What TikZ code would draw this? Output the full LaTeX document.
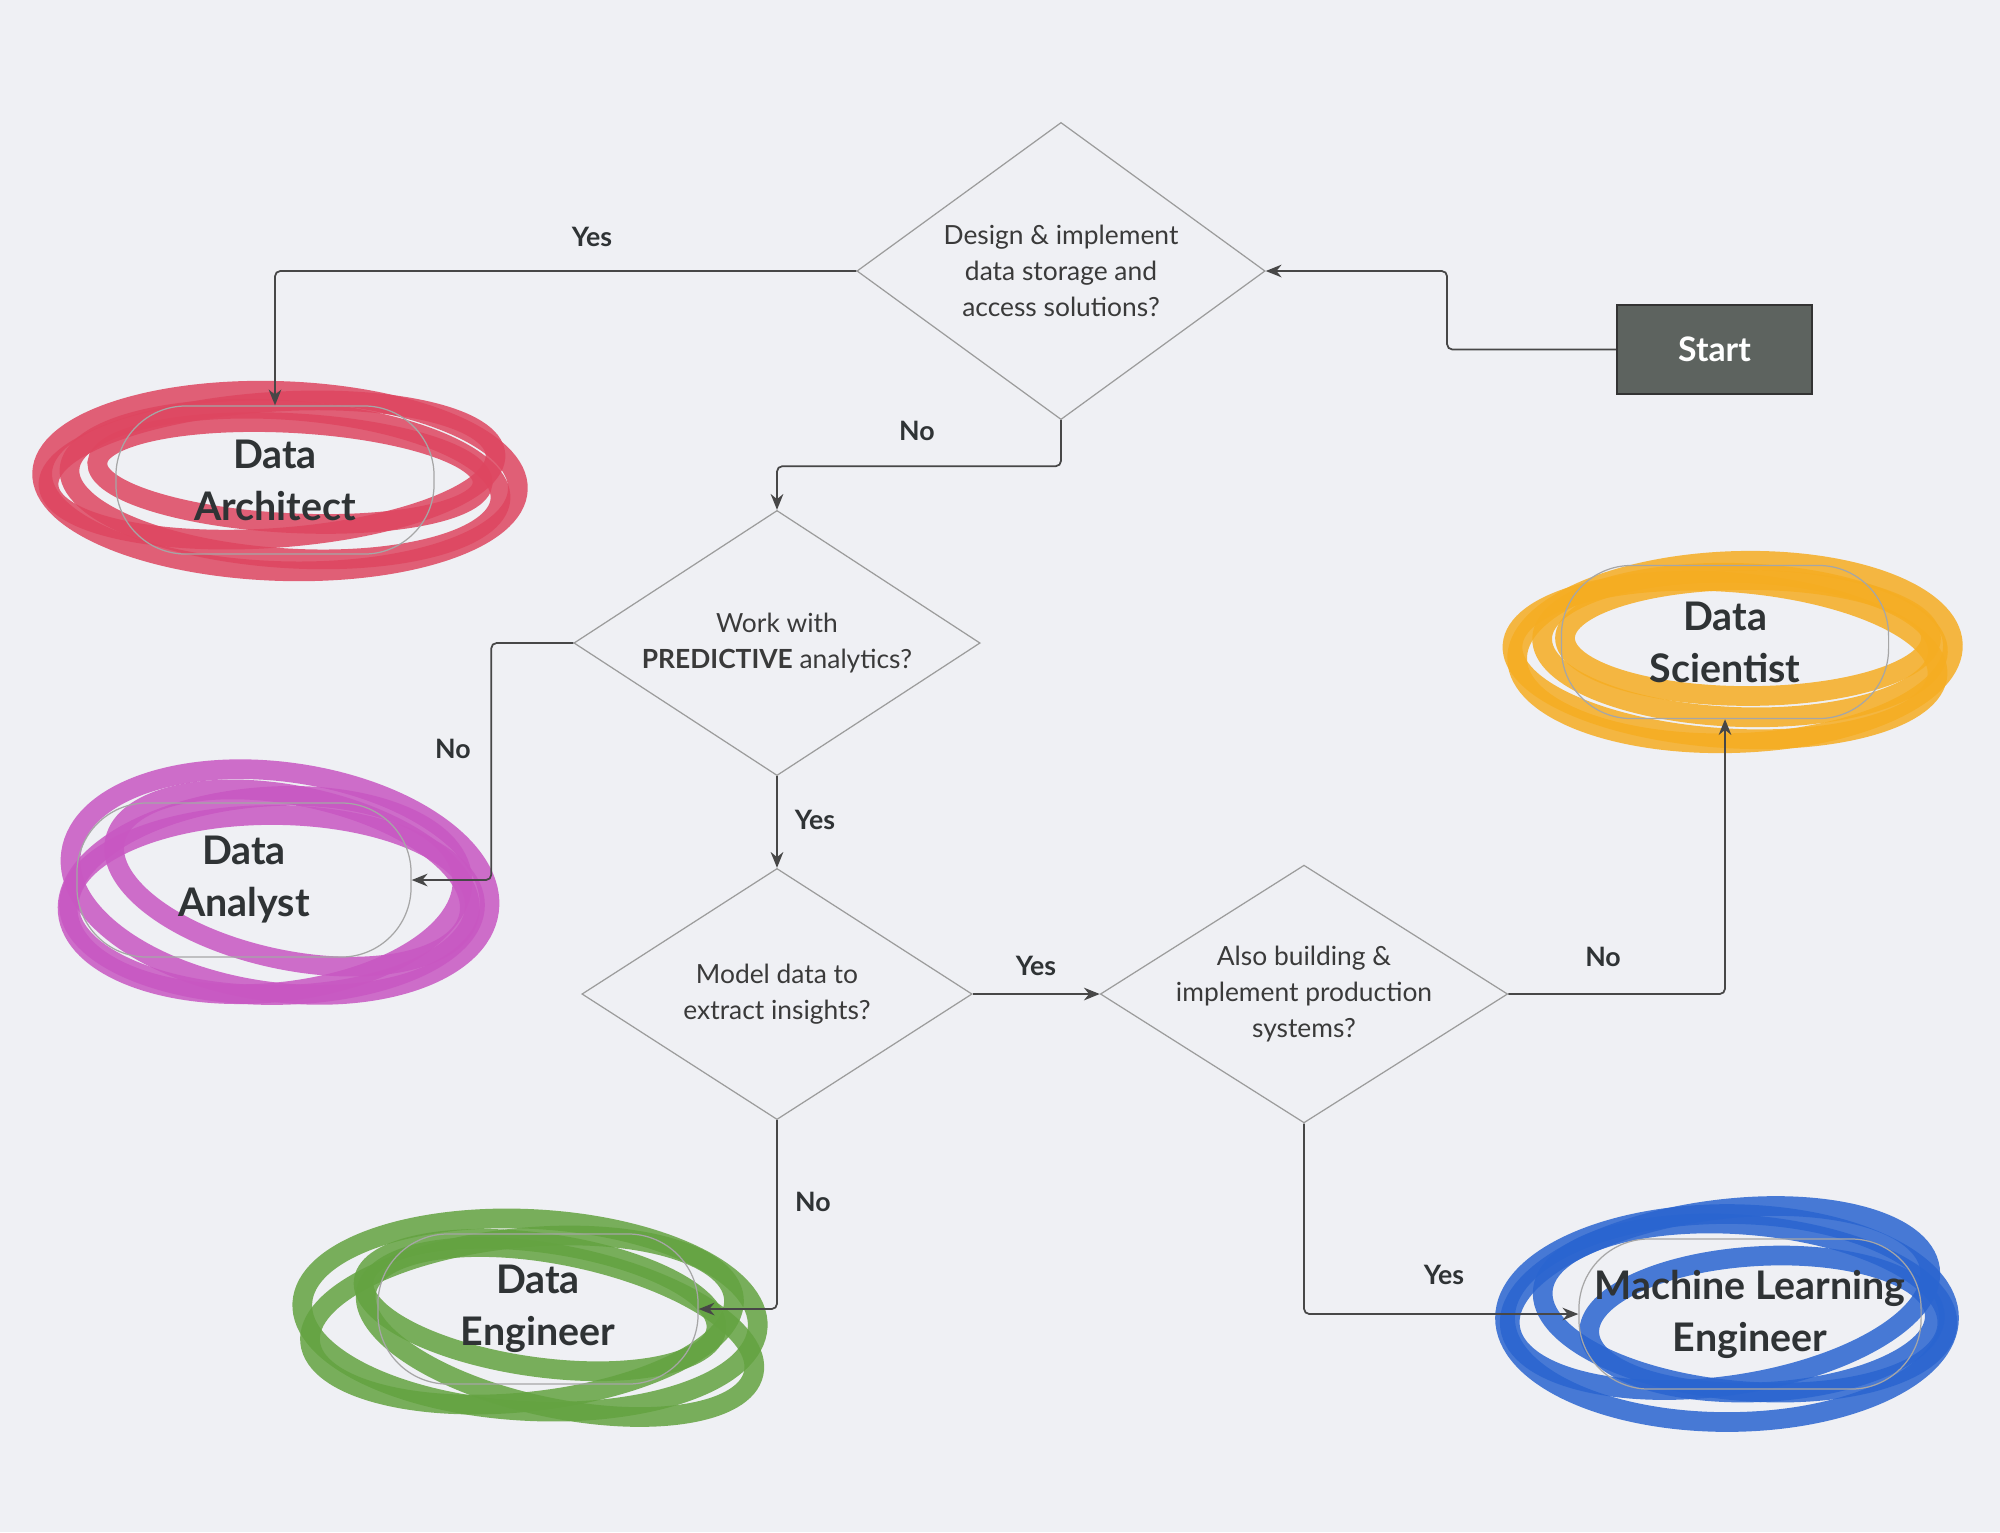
\documentclass[tikz,border=0pt]{standalone}
\usepackage{fontspec}
\setmainfont{Lato}
\usetikzlibrary{shapes.geometric,arrows.meta}
\definecolor{bg}{HTML}{EFF0F4}
\definecolor{conncol}{HTML}{474747}
\definecolor{diacol}{HTML}{9C9C9C}
\definecolor{txtcol}{HTML}{3A3A3A}
\definecolor{roletxt}{HTML}{2F3335}
\definecolor{startfill}{HTML}{5D635F}
\definecolor{mred}{HTML}{DE4660}
\definecolor{mmag}{HTML}{C857C2}
\definecolor{mgreen}{HTML}{64A341}
\definecolor{morange}{HTML}{F6AD22}
\definecolor{mblue}{HTML}{2A65D0}
\newcommand\mloop[6]{\draw[marker,#1,rotate around={#6:(#2,#3)}] (#2,#3) ellipse [x radius={#4*0.01cm}, y radius={#5*0.01cm}];}
\begin{document}
\begin{tikzpicture}[x=0.01cm,y=-0.01cm,
  dia/.style={shape=diamond, draw=diacol, line width=0.35pt, inner sep=0pt, aspect=1.4,
    align=center, text=txtcol, font=\fontsize{7.5}{10.2}\selectfont},
  role/.style={shape=rectangle, rounded corners=0.7cm, draw=gray!70, line width=0.35pt,
    align=center, text=roletxt, font=\bfseries\fontsize{11.2}{14.8}\selectfont},
  lbl/.style={text=roletxt, font=\bfseries\fontsize{7.6}{9}\selectfont, inner sep=1pt},
  conn/.style={draw=conncol, line width=0.5pt, rounded corners=1.5pt,
    -{Stealth[length=4.5pt,width=3.6pt]}},
  marker/.style={line width=5.6pt, opacity=0.85}]
\useasboundingbox (0,0) rectangle (2000,1532);
\fill[bg] (0,0) rectangle (2000,1532);

% marker loops
\mloop{mred}{280}{481}{238}{90}{-2}
\mloop{mred}{285}{484}{216}{74}{-4}
\mloop{mred}{290}{473}{193}{50}{-3}
\mloop{mred}{272}{470}{224}{68}{4}

\mloop{mmag}{280}{882}{211}{110}{-8}
\mloop{mmag}{265}{895}{198}{98}{5}
\mloop{mmag}{292}{878}{181}{82}{-12}
\mloop{mmag}{272}{905}{203}{90}{0}

\mloop{mgreen}{530}{1315}{228}{96}{-3}
\mloop{mgreen}{540}{1305}{178}{62}{-8}
\mloop{mgreen}{522}{1320}{213}{82}{6}
\mloop{mgreen}{560}{1332}{198}{76}{-12}

\mloop{morange}{1735}{652}{218}{91}{2}
\mloop{morange}{1740}{645}{198}{72}{-2}
\mloop{morange}{1725}{660}{213}{78}{-4}
\mloop{morange}{1748}{638}{183}{58}{0}

\mloop{mblue}{1727}{1318}{222}{104}{0}
\mloop{mblue}{1745}{1308}{203}{83}{-5}
\mloop{mblue}{1762}{1324}{173}{68}{3}
\mloop{mblue}{1720}{1298}{212}{88}{8}

% start
\node[draw=black!80, fill=startfill, line width=0.5pt, minimum width=1.95cm, minimum height=0.89cm,
  text=white, font=\bfseries\fontsize{9.6}{11}\selectfont] (start) at (1714.5,349.5) {Start};

% decisions
\node[dia, minimum width=4.08cm, minimum height=2.97cm] (d1) at (1061,271)
  {Design \& implement\\data storage and\\access solutions?};
\node[dia, minimum width=4.06cm, minimum height=2.65cm, aspect=1.53] (d2) at (777,643)
  {Work with\\\textbf{PREDICTIVE} analytics?};
\node[dia, minimum width=3.90cm, minimum height=2.51cm, aspect=1.55] (d3) at (777,994)
  {Model data to\\extract insights?};
\node[dia, minimum width=3.99cm, minimum height=2.53cm, aspect=1.58] (d4) at (1304,994)
  {Also building \&\\implement production\\systems?};

% roles
\node[role, minimum width=3.18cm, minimum height=1.48cm] (arch) at (275,480) {Data\\Architect};
\node[role, minimum width=3.34cm, minimum height=1.54cm] (analyst) at (244,880) {Data\\Analyst};
\node[role, minimum width=3.20cm, minimum height=1.50cm] (eng) at (538,1309) {Data\\Engineer};
\node[role, minimum width=3.27cm, minimum height=1.53cm] (sci) at (1725,642) {Data\\Scientist};
\node[role, minimum width=3.42cm, minimum height=1.50cm] (ml) at (1750,1314) {Machine Learning\\Engineer};

% connectors
\draw[conn] (start.west) -- ++(-169,0) |- (d1.east);
\draw[conn] (d1.west) -| (arch.north);
\draw[conn] (d1.south) -- ++(0,46) -| (d2.north);
\draw[conn] (d2.west) -- ++(-82,0) |- (analyst.east);
\draw[conn] (d2.south) -- (d3.north);
\draw[conn] (d3.east) -- (d4.west);
\draw[conn] (d4.east) -| (sci.south);
\draw[conn] (d4.south) |- (ml.west);
\draw[conn] (d3.south) |- (eng.east);

% labels
\node[lbl] (l1) at (592,237) {Yes};
\node[lbl] (l2) at (917,431) {No};
\node[lbl] (l3) at (453,749) {No};
\node[lbl] (l4) at (815,820) {Yes};
\node[lbl] (l5) at (1036,966) {Yes};
\node[lbl] (l6) at (1603,957) {No};
\node[lbl] (l7) at (1444,1275) {Yes};
\node[lbl] (l8) at (813,1202) {No};
\end{tikzpicture}
\end{document}
